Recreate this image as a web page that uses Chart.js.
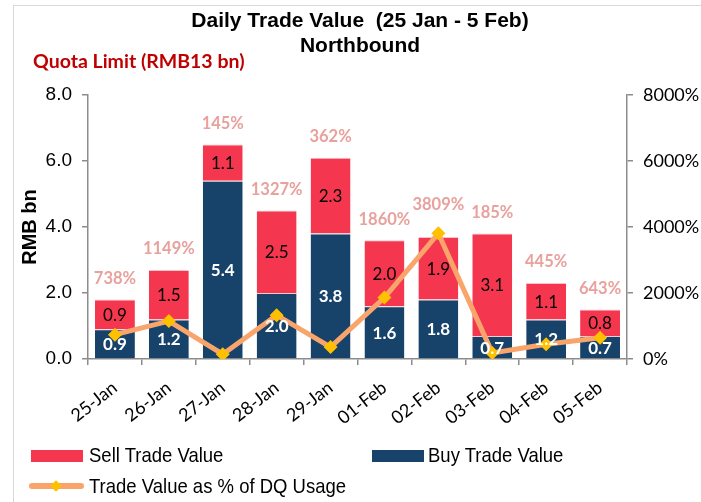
<!DOCTYPE html>
<html>
<head>
<meta charset="utf-8">
<script src="https://cdn.jsdelivr.net/npm/chart.js@4.4.1/dist/chart.umd.min.js"></script>
<style>
  html, body { margin: 0; padding: 0; background: #ffffff; }
  #wrap { position: relative; width: 701px; height: 502px; overflow: hidden; }
  #frame { position: absolute; left: 13px; top: 5px; width: 800px; height: 600px; border: 1px solid #d9d9d9; }
  #chart { position: absolute; left: 0; top: 0; }
  .title { position: absolute; left: 110px; width: 500px; text-align: center; font: bold 21px "Liberation Sans", Arial, sans-serif; color: #000; }
  #quota { position: absolute; left: 33px; top: 49px; font: bold 19.5px Lato, sans-serif; color: #c00000; }
  .leg { position: absolute; font: 18.5px "Liberation Sans", Arial, sans-serif; color: #000; transform: scaleY(1.05); }
  .sw { position: absolute; width: 52px; height: 12px; }
</style>
</head>
<body>
<div id="wrap">
  <div id="frame"></div>
  <canvas id="chart" width="701" height="502"></canvas>
  <div class="title" style="top: 8px;">Daily Trade Value&nbsp; (25 Jan - 5 Feb)</div>
  <div class="title" style="top: 33px;">Northbound</div>
  <div id="quota">Quota Limit (RMB13 bn)</div>

  <div class="sw" style="left: 31px; top: 450px; background: #f5364f;"></div>
  <div class="leg" style="left: 89px; top: 445px;">Sell Trade Value</div>
  <div class="sw" style="left: 372px; top: 450px; background: #17426a;"></div>
  <div class="leg" style="left: 428px; top: 445px;">Buy Trade Value</div>
  <div style="position: absolute; left: 29px; top: 483px; width: 55px; height: 6px; border-radius: 3px; background: #f8a46b;"></div>
  <div style="position: absolute; left: 52px; top: 482px; width: 8px; height: 8px; background: #ffc000; transform: rotate(45deg);"></div>
  <div class="leg" style="left: 89px; top: 476px;">Trade Value as % of DQ Usage</div>
</div>

<script>
  const dates = ["25-Jan", "26-Jan", "27-Jan", "28-Jan", "29-Jan", "01-Feb", "02-Feb", "03-Feb", "04-Feb", "05-Feb"];
  const buyValues = [0.9, 1.2, 5.4, 2.0, 3.8, 1.6, 1.8, 0.7, 1.2, 0.7];
  const sellValues = [0.9, 1.5, 1.1, 2.5, 2.3, 2.0, 1.9, 3.1, 1.1, 0.8];
  const dqUsagePct = [738, 1149, 145, 1327, 362, 1860, 3809, 185, 445, 643];
  const leftTicks = [0, 2, 4, 6, 8];
  const rightTicks = [0, 2000, 4000, 6000, 8000];

  const axisGrey = "#8c8c8c";

  // labels inside the bars and the % labels above them
  const valueLabels = {
    id: "valueLabels",
    afterDatasetsDraw(chart) {
      const ctx = chart.ctx;
      const buyMeta = chart.getDatasetMeta(0);
      const sellMeta = chart.getDatasetMeta(1);
      const lineMeta = chart.getDatasetMeta(2);
      ctx.save();
      ctx.textAlign = "center";
      ctx.textBaseline = "middle";

      buyMeta.data.forEach((bar, i) => {
        ctx.font = "bold 17px Lato, sans-serif";
        ctx.fillStyle = "#ffffff";
        ctx.fillText(buyValues[i].toFixed(1), bar.x, (bar.y + bar.base) / 2 + 1);
      });

      sellMeta.data.forEach((bar, i) => {
        ctx.font = "17px Lato, sans-serif";
        ctx.fillStyle = "#000000";
        ctx.fillText(sellValues[i].toFixed(1), bar.x, (bar.y + bar.base) / 2 + 1);

        const pt = lineMeta.data[i];
        const top = Math.min(bar.y, pt.y - 8);
        ctx.font = "bold 16.5px Lato, sans-serif";
        ctx.fillStyle = "#e8a19c";
        ctx.fillText(dqUsagePct[i] + "%", bar.x, top - 21);
      });
      ctx.restore();
    },
  };

  new Chart(document.getElementById("chart"), {
    data: {
      labels: dates,
      datasets: [
        {
          type: "bar",
          label: "Buy Trade Value",
          data: buyValues,
          backgroundColor: "#17426a",
          borderColor: "#f6c9cf",
          borderWidth: { top: 1, left: 0, right: 0, bottom: 0 },
          yAxisID: "y",
          order: 1,
          barPercentage: 0.74,
          categoryPercentage: 1,
        },
        {
          type: "bar",
          label: "Sell Trade Value",
          data: sellValues,
          backgroundColor: "#f5364f",
          borderColor: "#f8c2c8",
          borderWidth: { top: 1, left: 0, right: 0, bottom: 0 },
          yAxisID: "y",
          order: 1,
          barPercentage: 0.74,
          categoryPercentage: 1,
        },
        {
          type: "line",
          label: "Trade Value as % of DQ Usage",
          data: dqUsagePct,
          yAxisID: "y1",
          order: 0,
          borderColor: "#f8a46b",
          borderWidth: 5,
          pointStyle: "rectRot",
          pointRadius: 7,
          pointBackgroundColor: "#ffc000",
          pointBorderColor: "#ffc000",
          pointBorderWidth: 0,
          tension: 0,
        },
      ],
    },
    options: {
      responsive: false,
      animation: false,
      layout: { padding: { top: 95, left: 0, right: 0, bottom: 0 } },
      plugins: {
        legend: { display: false },
        tooltip: { enabled: false },
      },
      scales: {
        x: {
          stacked: true,
          afterFit: (scale) => { scale.height = 143; },
          border: { color: axisGrey, width: 1.5 },
          grid: { offset: true, drawOnChartArea: false, tickLength: 6, color: axisGrey, lineWidth: 1.5 },
          ticks: {
            maxRotation: 38,
            minRotation: 38,
            padding: 12,
            color: "#000",
            font: { family: "Lato", size: 18 },
          },
        },
        y: {
          stacked: true,
          position: "left",
          min: 0,
          max: 8,
          afterFit: (scale) => { scale.width = 88; },
          afterBuildTicks: (scale) => { scale.ticks = leftTicks.map((v) => ({ value: v })); },
          border: { color: axisGrey, width: 1.5 },
          grid: { drawOnChartArea: false, tickLength: 6, color: axisGrey, lineWidth: 1.5 },
          ticks: {
            padding: 10,
            color: "#000",
            font: { family: "Liberation Sans", size: 19 },
            callback: (v) => Number(v).toFixed(1),
          },
          title: {
            display: true,
            text: "RMB bn",
            color: "#000",
            font: { family: "Liberation Sans", size: 20, weight: "bold" },
            padding: { top: 18, bottom: 0 },
          },
        },
        y1: {
          position: "right",
          min: 0,
          max: 8000,
          afterFit: (scale) => { scale.width = 74; },
          afterBuildTicks: (scale) => { scale.ticks = rightTicks.map((v) => ({ value: v })); },
          border: { color: axisGrey, width: 1.5 },
          grid: { drawOnChartArea: false, tickLength: 6, color: axisGrey, lineWidth: 1.5 },
          ticks: {
            padding: 10,
            color: "#000",
            font: { family: "Lato", size: 18 },
            callback: (v) => v + "%",
          },
        },
      },
    },
    plugins: [valueLabels],
  });
</script>
</body>
</html>
